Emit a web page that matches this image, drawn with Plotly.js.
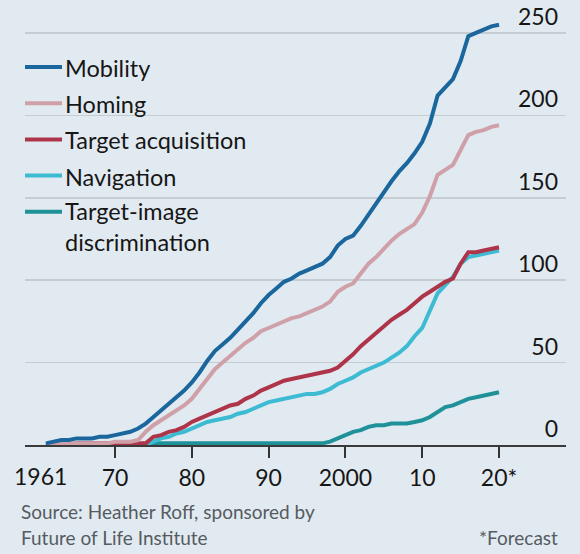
<!DOCTYPE html>
<html><head><meta charset="utf-8">
<script src="https://cdn.plot.ly/plotly-3.0.1.min.js"></script>
<style>html,body{margin:0;padding:0;background:#e2eaf1;}#chart{width:580px;height:554px;}</style>
</head><body><div id="chart"></div>
<script>
const years = [1961,1962,1963,1964,1965,1966,1967,1968,1969,1970,
  1971,1972,1973,1974,1975,1976,1977,1978,1979,1980,
  1981,1982,1983,1984,1985,1986,1987,1988,1989,1990,
  1991,1992,1993,1994,1995,1996,1997,1998,1999,2000,
  2001,2002,2003,2004,2005,2006,2007,2008,2009,2010,
  2011,2012,2013,2014,2015,2016,2017,2018,2019,2020];

const mobility = [1,2,3,3,4,4,4,5,5,6,
  7,8,10,13,17,21,25,29,33,38,
  44,51,57,61,65,70,75,80,86,91,
  95,99,101,104,106,108,110,114,121,125,
  127,133,140,147,154,160,166,171,177,184,
  195,212,217,222,233,248,250,252,254,255];

const homing = [0,1,1,1,1,1,1,1,1,2,
  2,2,3,8,12,15,18,21,24,28,
  34,40,46,50,54,58,62,65,69,71,
  73,75,77,78,80,82,84,87,93,96,
  98,104,110,114,119,124,128,131,134,141,
  151,164,167,170,179,188,190,191,193,194];

const targetAcquisition = [0,0,0,0,1,1,1,1,1,1,
  1,1,1,1,5,6,8,9,11,14,
  16,18,20,22,24,25,28,30,33,35,
  37,39,40,41,42,43,44,45,47,51,
  55,60,64,68,72,76,79,82,86,90,
  93,96,99,101,110,117,117,118,119,120];

const navigation = [null,null,null,null,null,null,null,null,null,null,
  null,null,0,0,2,4,5,7,8,10,
  12,14,15,16,17,19,20,22,24,26,
  27,28,29,30,31,31,32,34,37,39,
  41,44,46,48,50,53,56,60,66,71,
  82,92,97,102,110,114,115,116,117,118];

const targetImage = [null,null,null,null,null,null,null,null,null,null,
  null,null,null,1,1,1,1,1,1,1,
  1,1,1,1,1,1,1,1,1,1,
  1,1,1,1,1,1,1,2,4,6,
  8,9,11,12,12,13,13,13,14,15,
  17,20,23,24,26,28,29,30,31,32];

const seriesNames = ["Mobility","Homing","Target acquisition","Navigation","Target-image<br>discrimination"];
const seriesValues = [mobility, homing, targetAcquisition, navigation, targetImage];
const seriesColors = ["#1b679d","#d0a0a9","#ae3449","#3dbbd3","#1f9199"];

const xTickVals = [1970,1980,1990,2000,2010,2020];
const xTickText = ["70","80","90","2000","10","20*"];
const yTickVals = [0,50,100,150,200,250];

// draw order: bottom to top
const drawOrder = [4,3,2,1,0];
const traces = drawOrder.map(i => ({
  type: 'scatter', mode: 'lines', x: years, y: seriesValues[i],
  name: seriesNames[i], line: {color: seriesColors[i], width: 4},
  showlegend: false, hoverinfo: 'skip', connectgaps: false
}));

const W = 580, H = 554, mL = 25, mR = 14, mT = 0, mB = 109;
const pw = W - mL - mR, ph = H - mT - mB;
const px2x = p => (p - mL) / pw;
const py2y = p => (H - mB - p) / ph;

const annotations = [];
const shapes = [];
const legTop = 67, legStep = 36.2;
seriesNames.forEach((n, i) => {
  const yc = legTop + i * legStep;
  const multi = n.indexOf('<br>') >= 0;
  shapes.push({type: 'line', xref: 'paper', yref: 'paper',
    x0: px2x(25), x1: px2x(62), y0: py2y(yc), y1: py2y(yc),
    line: {color: seriesColors[i], width: 4}});
  annotations.push({xref: 'paper', yref: 'paper', x: px2x(63), y: py2y(multi ? yc + 14.5 : yc + 1),
    xanchor: 'left', yanchor: 'middle', showarrow: false, align: 'left', text: n,
    font: {size: 23.5, color: '#161616', family: 'Lato'}});
});
annotations.push({xref: 'x', yref: 'paper', x: 1961, y: py2y(476), xanchor: 'center', yanchor: 'middle',
  xshift: -5, showarrow: false, text: '1961', font: {size: 23, color: '#161616', family: 'Lato'}});
annotations.push({xref: 'paper', yref: 'paper', x: px2x(19), y: py2y(511), xanchor: 'left', yanchor: 'middle',
  showarrow: false, text: 'Source: Heather Roff, sponsored by', font: {size: 19, color: '#555b60', family: 'Lato'}});
annotations.push({xref: 'paper', yref: 'paper', x: px2x(19), y: py2y(537), xanchor: 'left', yanchor: 'middle',
  showarrow: false, text: 'Future of Life Institute', font: {size: 19, color: '#555b60', family: 'Lato'}});
annotations.push({xref: 'paper', yref: 'paper', x: px2x(560), y: py2y(537), xanchor: 'right', yanchor: 'middle',
  showarrow: false, text: '*Forecast', font: {size: 19, color: '#555b60', family: 'Lato'}});

const layout = {
  width: W, height: H,
  margin: {l: mL, r: mR, t: mT, b: mB, pad: 0},
  paper_bgcolor: '#e2eaf1', plot_bgcolor: '#e2eaf1',
  font: {family: 'Lato', color: '#161616'},
  showlegend: false,
  xaxis: {range: [1958.28, 2028.72], tickvals: xTickVals, ticktext: xTickText,
    ticks: 'outside', ticklen: 11, tickwidth: 2, tickcolor: '#333',
    showgrid: false, zeroline: false, showline: true, linecolor: '#3a3a3a', linewidth: 2,
    tickfont: {size: 23, color: '#161616'}, fixedrange: true},
  yaxis: {range: [0, 270], side: 'right', tickvals: yTickVals, ticks: '',
    ticklabelposition: 'inside top', ticklabelstandoff: 5, showgrid: true, gridcolor: '#c5ccd2', gridwidth: 1.5,
    zeroline: false, showline: false, tickfont: {size: 23, color: '#161616'}, fixedrange: true},
  shapes: shapes, annotations: annotations
};
Plotly.newPlot('chart', traces, layout, {displayModeBar: false, staticPlot: true});
</script></body></html>
